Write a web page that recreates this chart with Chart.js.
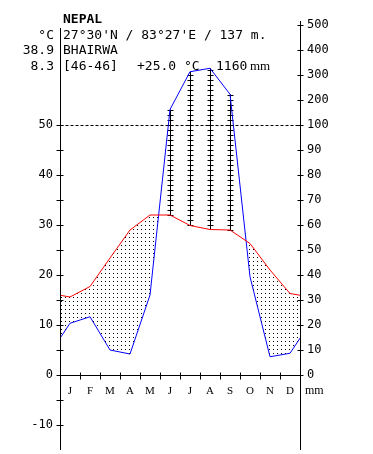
<!DOCTYPE html>
<html><head><meta charset="utf-8">
<script src="https://cdn.jsdelivr.net/npm/chart.js@4.4.1/dist/chart.umd.min.js"></script>
<style>html,body{margin:0;padding:0;background:#fff;} canvas{display:block;}</style>
</head><body>
<canvas id="c" width="373" height="454"></canvas>
<script>
// ---- data ----
const months = ['J','F','M','A','M','J','J','A','S','O','N','D'];
const temperature = [15.6, 17.7, 23.4, 29.0, 32.0, 32.0, 29.9, 29.1, 29.0, 26.3, 21.0, 16.3];   // °C
const precipitation = [20.7, 23.3, 10.0, 8.4, 32.0, 162, 313, 327, 223, 39.3, 7.3, 8.7];        // mm
const tempTickLabels = [-10, 0, 10, 20, 30, 40, 50];
const tempMinorTicks = [-10, -5, 0, 5, 10, 15, 20, 25, 30, 35, 40, 45, 50];
const precipTickLabels = [0, 10, 20, 30, 40, 50, 60, 70, 80, 90, 100, 200, 300, 400, 500];
const headerCountry = 'NEPAL';
const headerCoords = "27°30'N / 83°27'E / 137 m.";
const headerStation = 'BHAIRWA';
const headerYears = '[46-46]';
const headerMeanT = '+25.0 °C';
const headerSumP = '1160';
const headerMaxT = '38.9';
const headerMinT = '8.3';

// mm -> temperature-axis units (2 mm per °C up to 100 mm, then 20 mm per °C)
function mmToAxis(p) { return p <= 100 ? p / 2 : 50 + (p - 100) / 20; }
function wrapSeries(vals, f) {
  const pts = vals.map((v, i) => ({ x: i + 0.5, y: f(v) }));
  return [{ x: -0.5, y: f(vals[vals.length - 1]) }, ...pts, { x: vals.length + 0.5, y: f(vals[0]) }];
}

const dotCanvas = document.createElement('canvas');
dotCanvas.width = 4; dotCanvas.height = 4;
const dctx = dotCanvas.getContext('2d');
dctx.fillStyle = '#000'; dctx.fillRect(1, 1, 1, 1);
const dotPattern = document.getElementById('c').getContext('2d').createPattern(dotCanvas, 'repeat');

const MONO = '"DejaVu Sans Mono", "Liberation Mono", monospace';
const SERIF = '"Liberation Serif", "DejaVu Serif", serif';

const decor = {
  id: 'decor',
  beforeDatasetsDraw(chart) {
    const { ctx, scales: { x, y } } = chart;
    ctx.save();
    ctx.strokeStyle = '#000'; ctx.lineWidth = 1;
    for (let i = 0; i < months.length; i++) {
      const t = temperature[i], p = mmToAxis(precipitation[i]);
      if (p <= t) continue;
      const px = Math.round(x.getPixelForValue(i + 0.5)) + 0.5;
      ctx.beginPath();
      ctx.moveTo(px, y.getPixelForValue(t));
      ctx.lineTo(px, y.getPixelForValue(p));
      for (let v = Math.ceil(t); v <= p; v++) {
        const py = Math.round(y.getPixelForValue(v)) + 0.5;
        ctx.moveTo(px - 3, py); ctx.lineTo(px + 3, py);
      }
      ctx.stroke();
    }
    ctx.restore();
  },
  afterDraw(chart) {
    const { ctx, chartArea: a, scales: { x, y, y2 } } = chart;
    ctx.save();
    ctx.strokeStyle = '#000'; ctx.lineWidth = 1;
    const lx = Math.round(a.left) + 0.5, rx = Math.round(a.right) + 0.5;
    const y0 = Math.round(y.getPixelForValue(0)) + 0.5;
    ctx.beginPath();
    ctx.moveTo(lx, 28); ctx.lineTo(lx, a.bottom);
    tempMinorTicks.forEach(v => { const py = Math.round(y.getPixelForValue(v)) + 0.5; ctx.moveTo(lx - 4, py); ctx.lineTo(lx + 3, py); });
    ctx.moveTo(rx, 21); ctx.lineTo(rx, a.bottom);
    y2.ticks.forEach(t => { const py = Math.round(y2.getPixelForValue(t.value)) + 0.5; ctx.moveTo(rx - 3, py); ctx.lineTo(rx + 3, py); });
    ctx.moveTo(lx, y0); ctx.lineTo(rx, y0);
    for (let k = 1; k < months.length; k++) {
      const px = Math.round(x.getPixelForValue(k)) + 0.5;
      ctx.moveTo(px, y0 - 3); ctx.lineTo(px, y0 + 4);
    }
    ctx.stroke();
    ctx.setLineDash([3, 2]);
    ctx.beginPath();
    const y50 = Math.round(y.getPixelForValue(50)) + 0.5;
    ctx.moveTo(lx, y50); ctx.lineTo(rx, y50);
    ctx.stroke();
    ctx.setLineDash([]);
    ctx.fillStyle = '#000';
    ctx.textBaseline = 'middle';
    ctx.textAlign = 'left';
    ctx.font = 'bold 13px ' + MONO;
    ctx.fillText(headerCountry, 63, 20);
    ctx.font = '13px ' + MONO;
    ctx.fillText(headerCoords, 63, 36);
    ctx.fillText(headerStation, 63, 51);
    ctx.fillText(headerYears, 63, 67);
    ctx.fillText(headerMeanT, 137, 67);
    ctx.fillText(headerSumP, 216, 67);
    ctx.font = '13px ' + SERIF;
    ctx.fillText('mm', 250, 67);
    ctx.textAlign = 'right';
    ctx.font = '13px ' + MONO;
    ctx.fillText('°C', 54, 36);
    ctx.fillText(headerMaxT, 54, 51);
    ctx.fillText(headerMinT, 54, 67);
    ctx.textAlign = 'left';
    ctx.font = '12px ' + SERIF;
    ctx.fillText('mm', 305, 391);
    ctx.restore();
  }
};

new Chart(document.getElementById('c'), {
  type: 'line',
  data: {
    datasets: [
      {
        label: 'Temperature',
        data: wrapSeries(temperature, v => v),
        borderColor: '#ff0000', borderWidth: 1, pointRadius: 0, tension: 0,
        fill: { target: 1, above: dotPattern, below: 'rgba(0,0,0,0)' },
        clip: 0
      },
      {
        label: 'Precipitation',
        data: wrapSeries(precipitation, mmToAxis),
        borderColor: '#0000ff', borderWidth: 1, pointRadius: 0, tension: 0,
        fill: false, clip: 0
      }
    ]
  },
  options: {
    responsive: false, animation: false, devicePixelRatio: 1,
    layout: { padding: { top: 25, bottom: 4, left: 0, right: 0 } },
    plugins: { legend: { display: false }, tooltip: { enabled: false }, title: { display: false } },
    scales: {
      x: {
        type: 'linear', min: 0, max: 12, position: { y: 0 },
        grid: { display: false, drawTicks: false }, border: { display: false },
        afterFit: s => { s.height = 0; },
        afterBuildTicks: s => { s.ticks = months.map((m, i) => ({ value: i + 0.5 })); },
        ticks: { autoSkip: false, maxRotation: 0, padding: 13, color: '#000',
          font: { family: SERIF, size: 11, lineHeight: 0.5 },
          callback: (v, i) => months[i] }
      },
      y: {
        type: 'linear', min: -15, max: 70, position: 'left',
        grid: { display: false, drawTicks: false }, border: { display: false },
        afterFit: s => { s.width = 60; s.paddingBottom = 0; s.paddingTop = 0; },
        afterBuildTicks: s => { s.ticks = tempTickLabels.map(v => ({ value: v })); },
        ticks: { autoSkip: false, padding: 7, color: '#000', font: { family: MONO, size: 12, lineHeight: 0.5 },
          callback: (v, i) => String(tempTickLabels[i]) }
      },
      y2: {
        type: 'linear', min: -15, max: 70, position: 'right',
        grid: { display: false, drawTicks: false }, border: { display: false },
        afterFit: s => { s.width = 73; s.paddingBottom = 0; s.paddingTop = 0; },
        afterBuildTicks: s => { s.ticks = precipTickLabels.map(p => ({ value: mmToAxis(p) })); },
        ticks: { autoSkip: false, padding: 7, color: '#000', font: { family: MONO, size: 12, lineHeight: 0.5 },
          callback: (v, i) => String(precipTickLabels[i]) }
      }
    }
  },
  plugins: [decor]
});
</script>
</body></html>
